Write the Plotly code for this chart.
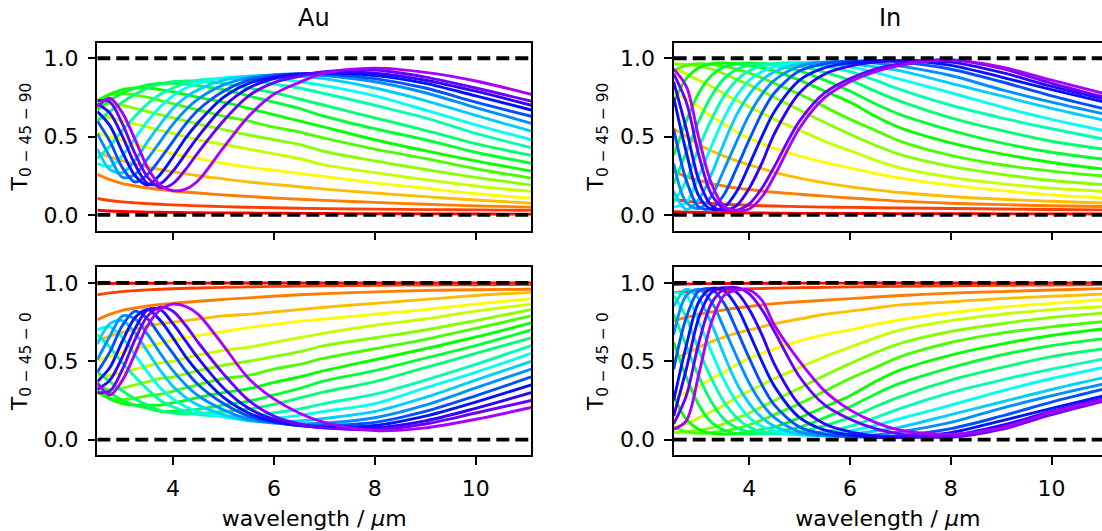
import plotly.graph_objects as go
import colorsys

wl = [2.5, 2.75, 3.0, 3.25, 3.5, 3.75, 4.0, 4.25, 4.5, 5.0, 5.5, 6.0, 6.5, 7.0, 8.0, 9.0, 10.0, 11.1]

au_t090 = [
    [0.03, 0.025, 0.022, 0.02, 0.018, 0.017, 0.016, 0.015, 0.014, 0.013, 0.012, 0.011, 0.01, 0.009, 0.008, 0.007, 0.006, 0.005],
    [0.105, 0.092, 0.083, 0.077, 0.072, 0.068, 0.064, 0.061, 0.058, 0.053, 0.049, 0.046, 0.043, 0.04, 0.037, 0.034, 0.032, 0.03],
    [0.26, 0.225, 0.2, 0.185, 0.172, 0.162, 0.153, 0.146, 0.14, 0.128, 0.118, 0.108, 0.1, 0.093, 0.08, 0.068, 0.058, 0.05],
    [0.40, 0.37, 0.345, 0.325, 0.305, 0.29, 0.275, 0.262, 0.25, 0.23, 0.21, 0.195, 0.18, 0.165, 0.14, 0.117, 0.095, 0.075],
    [0.52, 0.5, 0.475, 0.45, 0.43, 0.41, 0.39, 0.375, 0.36, 0.33, 0.305, 0.285, 0.265, 0.245, 0.205, 0.17, 0.135, 0.107],
    [0.62, 0.62, 0.6, 0.58, 0.56, 0.54, 0.52, 0.5, 0.48, 0.45, 0.42, 0.39, 0.36, 0.32, 0.27, 0.225, 0.185, 0.15],
    [0.69, 0.71, 0.70, 0.68, 0.66, 0.64, 0.62, 0.6, 0.58, 0.545, 0.51, 0.48, 0.45, 0.405, 0.345, 0.29, 0.24, 0.19],
    [0.73, 0.77, 0.775, 0.765, 0.75, 0.73, 0.71, 0.69, 0.67, 0.63, 0.6, 0.56, 0.53, 0.49, 0.42, 0.36, 0.295, 0.235],
    [0.72, 0.77, 0.80, 0.81, 0.81, 0.80, 0.785, 0.77, 0.75, 0.72, 0.68, 0.64, 0.6, 0.56, 0.48, 0.41, 0.345, 0.28],
    [0.67, 0.73, 0.78, 0.81, 0.83, 0.84, 0.84, 0.835, 0.825, 0.8, 0.76, 0.72, 0.68, 0.63, 0.55, 0.48, 0.4, 0.33],
    [0.6, 0.66, 0.72, 0.77, 0.81, 0.835, 0.85, 0.855, 0.855, 0.84, 0.81, 0.78, 0.74, 0.7, 0.62, 0.54, 0.455, 0.38],
    [0.36, 0.44, 0.54, 0.63, 0.71, 0.77, 0.81, 0.84, 0.86, 0.87, 0.86, 0.835, 0.81, 0.775, 0.7, 0.62, 0.52, 0.43],
    [0.33, 0.31, 0.38, 0.49, 0.6, 0.69, 0.76, 0.81, 0.84, 0.875, 0.88, 0.87, 0.85, 0.825, 0.76, 0.67, 0.575, 0.48],
    [0.42, 0.29, 0.27, 0.35, 0.47, 0.58, 0.68, 0.75, 0.8, 0.86, 0.885, 0.89, 0.885, 0.87, 0.81, 0.73, 0.635, 0.535],
    [0.52, 0.37, 0.24, 0.26, 0.36, 0.47, 0.58, 0.67, 0.74, 0.83, 0.875, 0.895, 0.9, 0.89, 0.85, 0.78, 0.685, 0.585],
    [0.6, 0.47, 0.3, 0.21, 0.26, 0.36, 0.47, 0.58, 0.67, 0.79, 0.86, 0.89, 0.9, 0.9, 0.87, 0.81, 0.72, 0.63],
    [0.66, 0.57, 0.4, 0.25, 0.19, 0.26, 0.37, 0.49, 0.59, 0.75, 0.84, 0.88, 0.9, 0.905, 0.89, 0.84, 0.76, 0.67],
    [0.71, 0.65, 0.5, 0.32, 0.2, 0.2, 0.28, 0.39, 0.5, 0.69, 0.81, 0.87, 0.895, 0.91, 0.905, 0.86, 0.79, 0.70],
    [0.73, 0.72, 0.58, 0.39, 0.24, 0.175, 0.2, 0.29, 0.4, 0.6, 0.76, 0.845, 0.885, 0.915, 0.925, 0.88, 0.81, 0.726],
    [0.69, 0.745, 0.65, 0.48, 0.30, 0.19, 0.155, 0.165, 0.22, 0.43, 0.63, 0.77, 0.845, 0.905, 0.937, 0.91, 0.855, 0.77],
]

in_t090 = [
    [0.02, 0.018, 0.016, 0.015, 0.014, 0.013, 0.012, 0.012, 0.011, 0.01, 0.01, 0.009, 0.009, 0.008, 0.008, 0.007, 0.007, 0.006],
    [0.1, 0.088, 0.08, 0.074, 0.069, 0.065, 0.062, 0.059, 0.057, 0.053, 0.05, 0.048, 0.046, 0.044, 0.041, 0.038, 0.035, 0.032],
    [0.28, 0.245, 0.22, 0.2, 0.185, 0.172, 0.162, 0.153, 0.145, 0.132, 0.12, 0.108, 0.098, 0.088, 0.075, 0.066, 0.059, 0.053],
    [0.55, 0.5, 0.45, 0.41, 0.375, 0.345, 0.32, 0.295, 0.272, 0.235, 0.205, 0.18, 0.16, 0.143, 0.118, 0.1, 0.087, 0.075],
    [0.78, 0.74, 0.69, 0.63, 0.58, 0.53, 0.49, 0.455, 0.425, 0.375, 0.335, 0.3, 0.265, 0.235, 0.19, 0.155, 0.128, 0.107],
    [0.93, 0.9, 0.86, 0.82, 0.775, 0.73, 0.69, 0.65, 0.61, 0.54, 0.47, 0.41, 0.35, 0.3, 0.24, 0.2, 0.17, 0.15],
    [0.965, 0.96, 0.95, 0.93, 0.9, 0.865, 0.83, 0.79, 0.75, 0.67, 0.59, 0.515, 0.445, 0.385, 0.31, 0.26, 0.22, 0.192],
    [0.92, 0.955, 0.965, 0.96, 0.95, 0.93, 0.905, 0.875, 0.84, 0.77, 0.69, 0.61, 0.54, 0.47, 0.38, 0.32, 0.28, 0.246],
    [0.72, 0.87, 0.94, 0.965, 0.97, 0.965, 0.955, 0.94, 0.92, 0.86, 0.79, 0.72, 0.63, 0.556, 0.46, 0.39, 0.335, 0.29],
    [0.38, 0.6, 0.78, 0.89, 0.945, 0.965, 0.97, 0.965, 0.955, 0.92, 0.86, 0.79, 0.71, 0.64, 0.54, 0.46, 0.4, 0.353],
    [0.2, 0.4, 0.6, 0.76, 0.87, 0.93, 0.955, 0.965, 0.965, 0.95, 0.91, 0.86, 0.79, 0.725, 0.62, 0.54, 0.47, 0.417],
    [0.08, 0.22, 0.43, 0.61, 0.76, 0.86, 0.92, 0.95, 0.965, 0.97, 0.95, 0.915, 0.86, 0.8, 0.7, 0.62, 0.55, 0.48],
    [0.05, 0.08, 0.25, 0.44, 0.62, 0.76, 0.86, 0.915, 0.945, 0.97, 0.965, 0.945, 0.91, 0.865, 0.78, 0.69, 0.61, 0.534],
    [0.15, 0.035, 0.1, 0.26, 0.46, 0.64, 0.77, 0.86, 0.915, 0.965, 0.975, 0.965, 0.945, 0.92, 0.84, 0.76, 0.68, 0.6],
    [0.33, 0.08, 0.04, 0.12, 0.29, 0.47, 0.64, 0.77, 0.86, 0.95, 0.975, 0.98, 0.97, 0.95, 0.89, 0.8, 0.72, 0.64],
    [0.55, 0.22, 0.05, 0.04, 0.13, 0.3, 0.48, 0.65, 0.78, 0.92, 0.965, 0.98, 0.985, 0.975, 0.93, 0.85, 0.76, 0.673],
    [0.75, 0.4, 0.12, 0.035, 0.05, 0.15, 0.32, 0.5, 0.66, 0.86, 0.94, 0.97, 0.985, 0.985, 0.955, 0.88, 0.8, 0.716],
    [0.85, 0.55, 0.22, 0.06, 0.03, 0.06, 0.17, 0.33, 0.52, 0.78, 0.9, 0.95, 0.975, 0.985, 0.975, 0.91, 0.82, 0.735],
    [0.9, 0.72, 0.38, 0.13, 0.04, 0.03, 0.07, 0.17, 0.31, 0.6, 0.78, 0.87, 0.93, 0.965, 0.99, 0.935, 0.84, 0.748],
    [0.93, 0.82, 0.49, 0.2, 0.055, 0.028, 0.038, 0.115, 0.25, 0.555, 0.75, 0.85, 0.915, 0.955, 0.99, 0.945, 0.86, 0.77],
]

au_t00 = [
    [0.995, 0.997, 0.998, 0.998, 0.998, 0.999, 0.999, 0.999, 0.999, 1.0, 1.0, 1.0, 1.0, 1.0, 1.0, 1.0, 1.0, 1.0],
    [0.925, 0.937, 0.945, 0.951, 0.956, 0.96, 0.963, 0.966, 0.968, 0.972, 0.975, 0.978, 0.98, 0.982, 0.985, 0.987, 0.989, 0.99],
    [0.765, 0.8, 0.825, 0.84, 0.853, 0.863, 0.87, 0.877, 0.883, 0.895, 0.905, 0.915, 0.925, 0.932, 0.943, 0.952, 0.957, 0.96],
    [0.63, 0.66, 0.685, 0.705, 0.725, 0.74, 0.75, 0.76, 0.77, 0.79, 0.8, 0.815, 0.83, 0.845, 0.87, 0.895, 0.92, 0.94],
    [0.51, 0.53, 0.555, 0.58, 0.6, 0.615, 0.635, 0.65, 0.665, 0.69, 0.715, 0.735, 0.755, 0.77, 0.8, 0.83, 0.865, 0.9],
    [0.41, 0.41, 0.43, 0.45, 0.47, 0.49, 0.5, 0.52, 0.54, 0.57, 0.59, 0.62, 0.65, 0.68, 0.73, 0.77, 0.82, 0.865],
    [0.34, 0.32, 0.33, 0.35, 0.37, 0.39, 0.4, 0.42, 0.44, 0.475, 0.5, 0.53, 0.56, 0.6, 0.65, 0.7, 0.76, 0.83],
    [0.3, 0.265, 0.255, 0.265, 0.28, 0.29, 0.31, 0.33, 0.35, 0.39, 0.41, 0.45, 0.48, 0.52, 0.58, 0.64, 0.71, 0.79],
    [0.31, 0.26, 0.23, 0.22, 0.22, 0.22, 0.235, 0.25, 0.27, 0.3, 0.325, 0.365, 0.4, 0.44, 0.51, 0.58, 0.655, 0.745],
    [0.36, 0.3, 0.25, 0.22, 0.2, 0.18, 0.18, 0.185, 0.195, 0.22, 0.245, 0.285, 0.325, 0.375, 0.44, 0.52, 0.6, 0.7],
    [0.43, 0.37, 0.31, 0.26, 0.22, 0.185, 0.17, 0.165, 0.165, 0.18, 0.195, 0.225, 0.265, 0.305, 0.37, 0.46, 0.55, 0.65],
    [0.67, 0.59, 0.49, 0.4, 0.32, 0.25, 0.21, 0.18, 0.16, 0.15, 0.145, 0.17, 0.195, 0.23, 0.29, 0.38, 0.48, 0.6],
    [0.7, 0.72, 0.65, 0.54, 0.43, 0.33, 0.26, 0.21, 0.18, 0.145, 0.125, 0.135, 0.155, 0.18, 0.23, 0.33, 0.43, 0.55],
    [0.61, 0.74, 0.76, 0.68, 0.56, 0.44, 0.34, 0.27, 0.22, 0.16, 0.12, 0.115, 0.12, 0.135, 0.18, 0.27, 0.38, 0.5],
    [0.51, 0.66, 0.79, 0.77, 0.67, 0.55, 0.44, 0.35, 0.28, 0.19, 0.13, 0.105, 0.1, 0.105, 0.14, 0.22, 0.33, 0.45],
    [0.43, 0.56, 0.73, 0.82, 0.77, 0.66, 0.55, 0.44, 0.35, 0.23, 0.15, 0.11, 0.09, 0.09, 0.11, 0.18, 0.28, 0.4],
    [0.37, 0.46, 0.63, 0.78, 0.83, 0.76, 0.65, 0.53, 0.43, 0.27, 0.17, 0.115, 0.09, 0.08, 0.09, 0.15, 0.24, 0.35],
    [0.32, 0.38, 0.53, 0.71, 0.83, 0.83, 0.74, 0.63, 0.52, 0.33, 0.2, 0.13, 0.095, 0.075, 0.075, 0.12, 0.2, 0.3],
    [0.3, 0.31, 0.45, 0.64, 0.79, 0.845, 0.82, 0.73, 0.62, 0.42, 0.25, 0.15, 0.1, 0.075, 0.065, 0.1, 0.17, 0.25],
    [0.36, 0.285, 0.38, 0.55, 0.73, 0.83, 0.865, 0.85, 0.8, 0.6, 0.39, 0.26, 0.17, 0.11, 0.058, 0.075, 0.13, 0.205],
]

in_t00 = [
    [0.99, 0.993, 0.995, 0.996, 0.997, 0.997, 0.998, 0.998, 0.998, 0.999, 0.999, 0.999, 1.0, 1.0, 1.0, 1.0, 1.0, 1.0],
    [0.94, 0.945, 0.95, 0.954, 0.957, 0.96, 0.963, 0.965, 0.967, 0.97, 0.972, 0.975, 0.977, 0.979, 0.982, 0.985, 0.987, 0.99],
    [0.76, 0.78, 0.8, 0.815, 0.828, 0.84, 0.85, 0.86, 0.868, 0.88, 0.89, 0.9, 0.91, 0.92, 0.935, 0.945, 0.955, 0.965],
    [0.52, 0.55, 0.59, 0.625, 0.655, 0.68, 0.7, 0.72, 0.74, 0.77, 0.8, 0.82, 0.84, 0.86, 0.88, 0.9, 0.915, 0.93],
    [0.27, 0.3, 0.34, 0.39, 0.43, 0.48, 0.52, 0.55, 0.58, 0.63, 0.67, 0.7, 0.735, 0.765, 0.81, 0.845, 0.87, 0.895],
    [0.08, 0.1, 0.14, 0.18, 0.22, 0.27, 0.31, 0.35, 0.39, 0.46, 0.53, 0.59, 0.65, 0.7, 0.76, 0.8, 0.83, 0.85],
    [0.045, 0.05, 0.06, 0.075, 0.1, 0.135, 0.17, 0.21, 0.25, 0.33, 0.41, 0.485, 0.555, 0.615, 0.69, 0.74, 0.78, 0.81],
    [0.08, 0.05, 0.04, 0.045, 0.055, 0.07, 0.095, 0.125, 0.16, 0.23, 0.31, 0.39, 0.46, 0.53, 0.62, 0.68, 0.72, 0.755],
    [0.28, 0.13, 0.065, 0.04, 0.035, 0.04, 0.05, 0.065, 0.08, 0.14, 0.21, 0.28, 0.37, 0.445, 0.54, 0.61, 0.665, 0.71],
    [0.62, 0.4, 0.22, 0.11, 0.06, 0.04, 0.035, 0.04, 0.05, 0.08, 0.14, 0.21, 0.29, 0.36, 0.46, 0.54, 0.6, 0.647],
    [0.8, 0.6, 0.4, 0.24, 0.13, 0.075, 0.05, 0.04, 0.04, 0.05, 0.09, 0.14, 0.21, 0.275, 0.38, 0.46, 0.53, 0.583],
    [0.92, 0.78, 0.57, 0.39, 0.24, 0.14, 0.08, 0.05, 0.04, 0.035, 0.05, 0.085, 0.14, 0.2, 0.3, 0.38, 0.45, 0.52],
    [0.94, 0.92, 0.75, 0.56, 0.38, 0.24, 0.14, 0.085, 0.055, 0.03, 0.035, 0.055, 0.09, 0.135, 0.22, 0.31, 0.39, 0.466],
    [0.85, 0.96, 0.9, 0.74, 0.54, 0.36, 0.23, 0.14, 0.085, 0.035, 0.025, 0.035, 0.055, 0.08, 0.16, 0.24, 0.32, 0.4],
    [0.67, 0.92, 0.96, 0.88, 0.71, 0.53, 0.36, 0.23, 0.14, 0.05, 0.025, 0.02, 0.03, 0.05, 0.11, 0.2, 0.28, 0.36],
    [0.45, 0.78, 0.95, 0.96, 0.87, 0.7, 0.52, 0.35, 0.22, 0.08, 0.035, 0.02, 0.015, 0.025, 0.07, 0.15, 0.24, 0.327],
    [0.25, 0.6, 0.88, 0.965, 0.95, 0.85, 0.68, 0.5, 0.34, 0.14, 0.06, 0.03, 0.015, 0.015, 0.045, 0.12, 0.2, 0.284],
    [0.15, 0.45, 0.78, 0.94, 0.97, 0.94, 0.83, 0.67, 0.48, 0.22, 0.1, 0.05, 0.025, 0.015, 0.025, 0.09, 0.18, 0.265],
    [0.1, 0.28, 0.62, 0.87, 0.96, 0.97, 0.93, 0.83, 0.69, 0.4, 0.22, 0.13, 0.07, 0.035, 0.015, 0.065, 0.16, 0.252],
    [0.066, 0.12, 0.42, 0.75, 0.92, 0.955, 0.955, 0.89, 0.73, 0.5, 0.31, 0.19, 0.11, 0.06, 0.034, 0.075, 0.175, 0.26],
]

x_ticks = [4, 6, 8, 10]
y_ticks = [0.0, 0.5, 1.0]
y_tick_text = ["0.0", "0.5", "1.0"]
titles = ["Au", "In"]
ylabels = ["T<sub>0 − 45 − 90</sub>", "T<sub>0 − 45 − 0</sub>"]
xlabel = "wavelength / <i>μ</i>m"

W, H = 1102, 531
FONT = "DejaVu Sans"
FS = 22
n = len(au_t090)


def colour(i):
    r, g, b = colorsys.hsv_to_rgb((280.0 / 360.0) * i / (n - 1), 1.0, 1.0)
    return "rgb(%d,%d,%d)" % (round(r * 255), round(g * 255), round(b * 255))


panels = [
    (au_t090, "x", "y"),
    (in_t090, "x2", "y2"),
    (au_t00, "x3", "y3"),
    (in_t00, "x4", "y4"),
]

fig = go.Figure()
for data, xa, ya in panels:
    for i, row in enumerate(data):
        fig.add_trace(go.Scatter(
            x=wl, y=row, mode="lines", xaxis=xa, yaxis=ya,
            line=dict(color=colour(i), width=2.9, shape="spline", smoothing=0.9),
            showlegend=False, hoverinfo="skip"))
    for level in (0.0, 1.0):
        fig.add_trace(go.Scatter(
            x=[wl[0], wl[-1]], y=[level, level], mode="lines", xaxis=xa, yaxis=ya,
            line=dict(color="black", width=3.8, dash="13px,6px"),
            showlegend=False, hoverinfo="skip"))

left_dom = [97.3 / W, 531.2 / W]
right_dom = [673.7 / W, 1.0]
top_dom = [1 - 230.6 / H, 1 - 42.6 / H]
bot_dom = [1 - 455.3 / H, 1 - 267.3 / H]

axis_common = dict(
    showline=True, linecolor="black", linewidth=1.7,
    ticks="outside", ticklen=7.5, tickwidth=1.7, tickcolor="black",
    showgrid=False, zeroline=False, ticklabelstandoff=5,
    tickfont=dict(family=FONT, size=FS, color="black"),
)


def xaxis(dom, rng, anchor, labels, mirror, title):
    d = dict(axis_common)
    d.update(domain=dom, range=rng, anchor=anchor, tickvals=x_ticks,
             showticklabels=labels, mirror=mirror)
    if title:
        d.update(title=dict(text=title, standoff=14,
                            font=dict(family=FONT, size=FS, color="black")))
    return d


def yaxis(dom, anchor, mirror, title):
    d = dict(axis_common)
    d.update(domain=dom, range=[-0.1, 1.1], anchor=anchor, tickvals=y_ticks,
             ticktext=y_tick_text, mirror=mirror,
             title=dict(text=title, standoff=10,
                        font=dict(family=FONT, size=FS, color="black")))
    return d


fig.update_layout(
    width=W, height=H, margin=dict(l=0, r=0, t=0, b=0),
    paper_bgcolor="white", plot_bgcolor="white",
    font=dict(family=FONT, size=FS, color="black"),
    xaxis=xaxis(left_dom, [2.5, 11.1], "y", False, True, None),
    yaxis=yaxis(top_dom, "x", True, ylabels[0]),
    xaxis2=xaxis(right_dom, [2.5, 11.0], "y2", False, True, None),
    yaxis2=yaxis(top_dom, "x2", False, ylabels[0]),
    xaxis3=xaxis(left_dom, [2.5, 11.1], "y3", True, True, xlabel),
    yaxis3=yaxis(bot_dom, "x3", True, ylabels[1]),
    xaxis4=xaxis(right_dom, [2.5, 11.0], "y4", True, True, xlabel),
    yaxis4=yaxis(bot_dom, "x4", False, ylabels[1]),
)

ann = []
centres_x = [314.0 / W, 890.0 / W]
for cx, t in zip(centres_x, titles):
    ann.append(dict(text=t, x=cx, y=1 - 18.0 / H, xref="paper", yref="paper",
                    xanchor="center", yanchor="middle", showarrow=False,
                    font=dict(family=FONT, size=24, color="black")))
fig.update_layout(annotations=ann)

fig.write_html("out.html")
